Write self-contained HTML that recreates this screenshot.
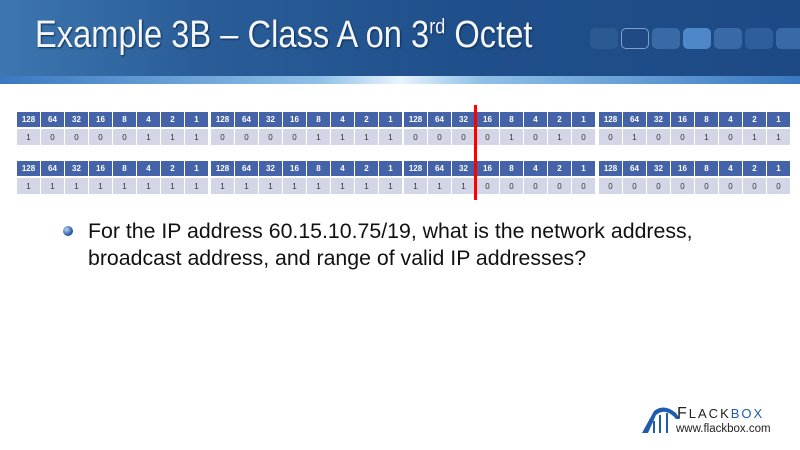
<!DOCTYPE html>
<html><head><style>
body{margin:0;width:800px;height:450px;background:#fff;position:relative;overflow:hidden;font-family:"Liberation Sans",sans-serif}
.hdr{position:absolute;left:0;top:0;width:800px;height:78px;background:linear-gradient(90deg,#3d76b0 0%,#2a5d98 25%,#1f4f8a 60%,#1d4a85 100%)}
.band{position:absolute;left:0;top:76px;width:800px;height:8px;background:linear-gradient(90deg,#3a78c0,#8fc0e8 40%,#e8f4fc 50%,#8fc0e8 60%,#3a78c0)}
.title{position:absolute;left:35px;top:14px;color:#f4f6fa;font-size:38px;transform:scaleX(0.86);transform-origin:0 0;white-space:nowrap;text-shadow:1px 1px 2px #0a2a50}
.title sup{font-size:21px}
.sq{position:absolute;top:28px;width:28px;height:21px;border-radius:5px;background:#35689f;box-sizing:border-box}
table{position:absolute;border-collapse:separate;border-spacing:1px 2px;font-size:8px;text-align:center}
td{width:23px;height:15px;padding:0}
tr.h td{background:#4463a8;color:#fff;font-weight:bold}
tr.v td{background:#d3d6e6;color:#333;height:16px}
.red{position:absolute;left:474px;top:105px;width:3px;height:95px;background:#f00}
.txt{position:absolute;left:88px;top:218px;font-size:21.3px;color:#111;line-height:27px;white-space:nowrap}
.bul{position:absolute;left:63px;top:226px;width:10px;height:10px;border-radius:50%;background:radial-gradient(circle at 35% 35%,#bcd4f0,#2d5fa8 60%,#1a3a70)}
</style></head><body>
<div class="hdr"></div><div class="band"></div>
<div class="title">Example 3B – Class A on 3<sup>rd</sup> Octet</div>
<div class="sq" style="left:590px;background:#2b5a92"></div>
<div class="sq" style="left:621px;background:#1f4a84;border:1px solid #7fa0cc"></div>
<div class="sq" style="left:652px;background:#3a6aa5"></div>
<div class="sq" style="left:683px;background:#4f88c8"></div>
<div class="sq" style="left:714px;background:#3a6aa5"></div>
<div class="sq" style="left:745px;background:#2f5f9a"></div>
<div class="sq" style="left:776px;background:#3a6aa5"></div>

<table style="left:16px;top:110px"><tr class="h"><td>128</td><td>64</td><td>32</td><td>16</td><td>8</td><td>4</td><td>2</td><td>1</td></tr><tr class="v"><td>1</td><td>0</td><td>0</td><td>0</td><td>0</td><td>1</td><td>1</td><td>1</td></tr></table>
<table style="left:210px;top:110px"><tr class="h"><td>128</td><td>64</td><td>32</td><td>16</td><td>8</td><td>4</td><td>2</td><td>1</td></tr><tr class="v"><td>0</td><td>0</td><td>0</td><td>0</td><td>1</td><td>1</td><td>1</td><td>1</td></tr></table>
<table style="left:403px;top:110px"><tr class="h"><td>128</td><td>64</td><td>32</td><td>16</td><td>8</td><td>4</td><td>2</td><td>1</td></tr><tr class="v"><td>0</td><td>0</td><td>0</td><td>0</td><td>1</td><td>0</td><td>1</td><td>0</td></tr></table>
<table style="left:598px;top:110px"><tr class="h"><td>128</td><td>64</td><td>32</td><td>16</td><td>8</td><td>4</td><td>2</td><td>1</td></tr><tr class="v"><td>0</td><td>1</td><td>0</td><td>0</td><td>1</td><td>0</td><td>1</td><td>1</td></tr></table>

<table style="left:16px;top:159px"><tr class="h"><td>128</td><td>64</td><td>32</td><td>16</td><td>8</td><td>4</td><td>2</td><td>1</td></tr><tr class="v"><td>1</td><td>1</td><td>1</td><td>1</td><td>1</td><td>1</td><td>1</td><td>1</td></tr></table>
<table style="left:210px;top:159px"><tr class="h"><td>128</td><td>64</td><td>32</td><td>16</td><td>8</td><td>4</td><td>2</td><td>1</td></tr><tr class="v"><td>1</td><td>1</td><td>1</td><td>1</td><td>1</td><td>1</td><td>1</td><td>1</td></tr></table>
<table style="left:403px;top:159px"><tr class="h"><td>128</td><td>64</td><td>32</td><td>16</td><td>8</td><td>4</td><td>2</td><td>1</td></tr><tr class="v"><td>1</td><td>1</td><td>1</td><td>0</td><td>0</td><td>0</td><td>0</td><td>0</td></tr></table>
<table style="left:598px;top:159px"><tr class="h"><td>128</td><td>64</td><td>32</td><td>16</td><td>8</td><td>4</td><td>2</td><td>1</td></tr><tr class="v"><td>0</td><td>0</td><td>0</td><td>0</td><td>0</td><td>0</td><td>0</td><td>0</td></tr></table>
<div class="red"></div>

<div class="bul"></div>
<div class="txt">For the IP address 60.15.10.75/19, what is the network address,<br>broadcast address, and range of valid IP addresses?</div>

<svg style="position:absolute;left:640px;top:405px" width="45" height="30" viewBox="0 0 45 30">
<path d="M2 28 L14 6 Q24 -2 36 8 L40 14 L36 14 Q26 2 16 10 L8 28 Z" fill="#1f5cb0"/>
<path d="M14 16 L14 28 M20 10 L20 28 M27 8 L27 28" stroke="#1f5cb0" stroke-width="2"/>
</svg>
<div style="position:absolute;left:677px;top:405px;font-size:16px;letter-spacing:2px;color:#222">F<span style="font-size:13px">LACK</span><span style="font-size:13px;color:#1f5cb0">BOX</span></div>
<div style="position:absolute;left:676px;top:423px;font-size:11.5px;color:#222">www.flackbox.com</div>
</body></html>
